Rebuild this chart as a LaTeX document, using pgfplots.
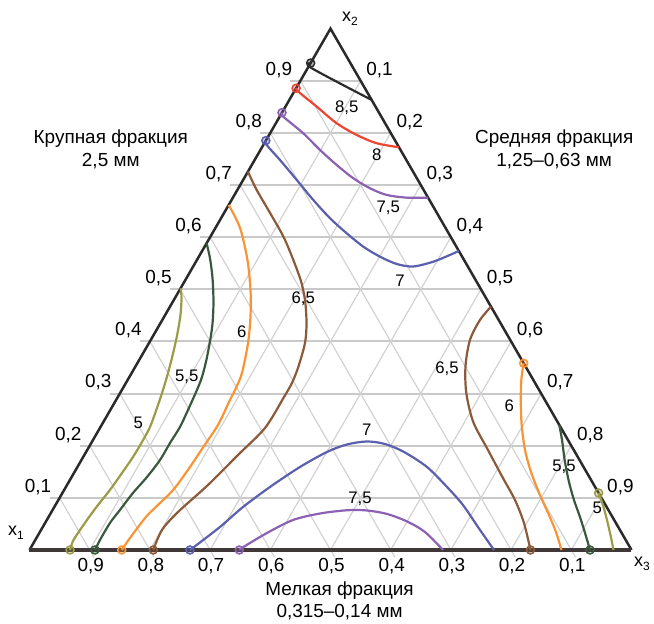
\documentclass[border=0pt]{standalone}
\usepackage{fontspec}
\setmainfont{Liberation Sans}
\usepackage{pgfplots}
\pgfplotsset{compat=1.18}
\usepackage{pgfplotstable}

\definecolor{cK}{HTML}{2B2B2B}
\definecolor{cR}{HTML}{EE4433}
\definecolor{cP}{HTML}{8C61B3}
\definecolor{cB}{HTML}{5A5FAE}
\definecolor{cBr}{HTML}{8C5A3A}
\definecolor{cO}{HTML}{F89436}
\definecolor{cG}{HTML}{3A593C}
\definecolor{cOl}{HTML}{9C9C48}
\definecolor{gridH}{HTML}{C9C9C9}
\definecolor{gridD}{HTML}{D2D2D2}
\definecolor{side}{HTML}{2A2A2A}
\definecolor{base}{HTML}{403838}

\pgfplotsset{
  cont/.style={line width=2.2bp, smooth, tension=0.5, mark=*, mark size=4bp,
    mark options={line width=1.5bp, fill opacity=0.3}},
}
\newcommand\tl{\fontsize{19}{22}\selectfont}
\newcommand\cl{\fontsize{16.8}{20}\selectfont}
\newcommand\ttl{\fontsize{19}{22.7}\selectfont}

\begin{document}
% ternary compositions: x2 (top vertex), x3 (bottom-right vertex); x1 = 1 - x2 - x3
\pgfplotstableread{
x2 x3
0.934 0.000
0.924 0.007
0.8632 0.1368
}\tblK
\pgfplotstableread{
x2 x3
0.8857 0.000
0.8792 0.0069
0.8504 0.0519
0.8185 0.1010
0.7961 0.1455
0.7802 0.1866
0.7725 0.2275
}\tblR
\pgfplotstableread{
x2 x3
0.8389 0.000
0.8312 0.006
0.7993 0.0551
0.7673 0.0989
0.7385 0.1410
0.7130 0.1814
0.6938 0.2187
0.6810 0.2529
0.6758 0.2887
0.6758 0.3242
}\tblPt
\pgfplotstableread{
x2 x3
0.7852 0.000
0.7769 0.0055
0.7481 0.0420
0.7098 0.0890
0.6714 0.1357
0.6363 0.1811
0.6075 0.2231
0.5818 0.2636
0.5626 0.3009
0.5486 0.3357
0.5438 0.3656
0.5530 0.3943
0.5659 0.4155
0.5736 0.4264
}\tblBt
\pgfplotstableread{
x2 x3
0.7257 0.000
0.6906 0.0321
0.6465 0.0763
0.5947 0.1271
0.5218 0.1884
0.4796 0.2178
0.4355 0.2424
0.3971 0.2591
0.3510 0.2710
0.3204 0.2758
0.2935 0.2761
0.2340 0.2742
0.1822 0.2552
0.1247 0.2342
0.0729 0.2103
0.0384 0.2009
0.000 0.2056
}\tblBrl
\pgfplotstableread{
x2 x3
0.6618 0.000
0.6177 0.0409
0.5563 0.0839
0.4988 0.1177
0.4489 0.1427
0.3971 0.1645
0.3395 0.1832
0.3108 0.1876
0.2877 0.1892
0.2398 0.1932
0.1995 0.1901
0.1592 0.1870
0.1170 0.1815
0.0863 0.1703
0.0633 0.1618
0.0230 0.1554
0.000 0.1532
}\tblOl
\pgfplotstableread{
x2 x3
0.5883 0.000
0.5601 0.0197
0.5218 0.0431
0.4738 0.0687
0.4259 0.0903
0.3702 0.1098
0.3319 0.1206
0.3069 0.1247
0.2686 0.1290
0.2359 0.1320
0.2053 0.1308
0.1726 0.1305
0.1400 0.1252
0.1093 0.1172
0.0767 0.1119
0.0518 0.1078
0.0192 0.1075
0.000 0.1088
}\tblGl
\pgfplotstableread{
x2 x3
0.5020 0.000
0.4834 0.0108
0.4508 0.0254
0.4105 0.0397
0.3683 0.0525
0.3357 0.0613
0.3069 0.0683
0.2724 0.0756
0.2359 0.0822
0.2072 0.0833
0.1784 0.0827
0.1477 0.0798
0.1151 0.0761
0.0863 0.0706
0.0575 0.0667
0.0326 0.0643
0.0173 0.0636
0.000 0.0673
}\tblOll
\pgfplotstableread{
x2 x3
0.000 0.2666
0.0096 0.2729
0.0441 0.2943
0.0825 0.3135
0.1209 0.3391
0.1592 0.3697
0.1880 0.4002
0.2024 0.4262
0.2081 0.4565
0.2033 0.4888
0.1880 0.5281
0.1592 0.5807
0.1209 0.6331
0.0863 0.6769
0.0441 0.7229
0.000 0.7716
}\tblBb
\pgfplotstableread{
x2 x3
0.000 0.3485
0.0096 0.3560
0.0326 0.3782
0.0575 0.4089
0.0700 0.4476
0.0762 0.4893
0.0758 0.5227
0.0691 0.5594
0.0547 0.5998
0.0345 0.6397
0.000 0.6869
}\tblPb
\pgfplotstableread{
x2 x3
0.4667 0.5333
0.4412 0.5277
0.4028 0.5303
0.3530 0.5478
0.3012 0.5750
0.2455 0.6144
0.1918 0.6657
0.1381 0.7174
0.0959 0.7585
0.0518 0.7955
0.000 0.8322
}\tblBrr
\pgfplotstableread{
x2 x3
0.3581 0.6419
0.3299 0.6523
0.2877 0.6722
0.2398 0.6977
0.1918 0.7272
0.1496 0.7583
0.1055 0.7952
0.0671 0.8294
0.0345 0.8573
0.000 0.8837
}\tblOr
\pgfplotstableread{
x2 x3
0.2398 0.7602
0.2110 0.7791
0.1688 0.8051
0.1304 0.8310
0.0959 0.8565
0.0633 0.8828
0.0326 0.9065
0.000 0.9311
}\tblGr
\pgfplotstableread{
x2 x3
0.1093 0.8907
0.0863 0.9095
0.0575 0.9305
0.0288 0.9507
0.000 0.9701
}\tblOlr

\begin{tikzpicture}
\begin{axis}[x=602bp, y=602bp,
  xmin=-0.0490, xmax=1.0374, ymin=-0.1196, ymax=0.9136,
  hide axis, clip=false]
\path (axis cs:-0.0490,-0.1196) rectangle (axis cs:1.0374,0.9136);
% grid: lines of constant x2 (with tick extension to the left)
\draw[gridH, line width=2bp]
 (axis cs:0.0334,0.0866) -- (axis cs:0.95,0.0866)
 (axis cs:0.0834,0.1732) -- (axis cs:0.90,0.1732)
 (axis cs:0.1334,0.2598) -- (axis cs:0.85,0.2598)
 (axis cs:0.1834,0.3464) -- (axis cs:0.80,0.3464)
 (axis cs:0.2334,0.4330) -- (axis cs:0.75,0.4330)
 (axis cs:0.2834,0.5196) -- (axis cs:0.70,0.5196)
 (axis cs:0.3334,0.6062) -- (axis cs:0.65,0.6062)
 (axis cs:0.3834,0.6928) -- (axis cs:0.60,0.6928)
 (axis cs:0.4334,0.7794) -- (axis cs:0.55,0.7794);
% lines of constant x1 (with tick extension below the base)
\draw[gridD, line width=1.2bp]
 (axis cs:0.05,0.0866) -- (axis cs:0.107,-0.0121)
 (axis cs:0.10,0.1732) -- (axis cs:0.207,-0.0121)
 (axis cs:0.15,0.2598) -- (axis cs:0.307,-0.0121)
 (axis cs:0.20,0.3464) -- (axis cs:0.407,-0.0121)
 (axis cs:0.25,0.4330) -- (axis cs:0.507,-0.0121)
 (axis cs:0.30,0.5196) -- (axis cs:0.607,-0.0121)
 (axis cs:0.35,0.6062) -- (axis cs:0.707,-0.0121)
 (axis cs:0.40,0.6928) -- (axis cs:0.807,-0.0121)
 (axis cs:0.45,0.7794) -- (axis cs:0.907,-0.0121);
% lines of constant x3
\draw[gridD, line width=1.2bp]
 (axis cs:0.1,0) -- (axis cs:0.55,0.7794)
 (axis cs:0.2,0) -- (axis cs:0.60,0.6928)
 (axis cs:0.3,0) -- (axis cs:0.65,0.6062)
 (axis cs:0.4,0) -- (axis cs:0.70,0.5196)
 (axis cs:0.5,0) -- (axis cs:0.75,0.4330)
 (axis cs:0.6,0) -- (axis cs:0.80,0.3464)
 (axis cs:0.7,0) -- (axis cs:0.85,0.2598)
 (axis cs:0.8,0) -- (axis cs:0.90,0.1732)
 (axis cs:0.9,0) -- (axis cs:0.95,0.0866);
% triangle
\draw[side, line width=2.5bp, line join=miter] (axis cs:0,0) -- (axis cs:0.5,0.866025) -- (axis cs:1,0);
\draw[base, line width=3.8bp] (axis cs:0,0) -- (axis cs:1,0);

% contour lines
\addplot[cont, cK, smooth=false, mark indices={1}] table[x expr=\thisrow{x3}+0.5*\thisrow{x2}, y expr=0.866025*\thisrow{x2}] {\tblK};
\addplot[cont, cR, mark indices={1}] table[x expr=\thisrow{x3}+0.5*\thisrow{x2}, y expr=0.866025*\thisrow{x2}] {\tblR};
\addplot[cont, cP, mark indices={1}] table[x expr=\thisrow{x3}+0.5*\thisrow{x2}, y expr=0.866025*\thisrow{x2}] {\tblPt};
\addplot[cont, cB, mark indices={1}] table[x expr=\thisrow{x3}+0.5*\thisrow{x2}, y expr=0.866025*\thisrow{x2}] {\tblBt};
\addplot[cont, cBr, mark indices={17}] table[x expr=\thisrow{x3}+0.5*\thisrow{x2}, y expr=0.866025*\thisrow{x2}] {\tblBrl};
\addplot[cont, cO, mark indices={17}] table[x expr=\thisrow{x3}+0.5*\thisrow{x2}, y expr=0.866025*\thisrow{x2}] {\tblOl};
\addplot[cont, cG, mark indices={18}] table[x expr=\thisrow{x3}+0.5*\thisrow{x2}, y expr=0.866025*\thisrow{x2}] {\tblGl};
\addplot[cont, cOl, mark indices={18}] table[x expr=\thisrow{x3}+0.5*\thisrow{x2}, y expr=0.866025*\thisrow{x2}] {\tblOll};
\addplot[cont, cB, mark indices={1}] table[x expr=\thisrow{x3}+0.5*\thisrow{x2}, y expr=0.866025*\thisrow{x2}] {\tblBb};
\addplot[cont, cP, mark indices={1}] table[x expr=\thisrow{x3}+0.5*\thisrow{x2}, y expr=0.866025*\thisrow{x2}] {\tblPb};
\addplot[cont, cBr, mark indices={11}] table[x expr=\thisrow{x3}+0.5*\thisrow{x2}, y expr=0.866025*\thisrow{x2}] {\tblBrr};
\addplot[cont, cO, mark indices={1}] table[x expr=\thisrow{x3}+0.5*\thisrow{x2}, y expr=0.866025*\thisrow{x2}] {\tblOr};
\addplot[cont, cG, mark indices={8}] table[x expr=\thisrow{x3}+0.5*\thisrow{x2}, y expr=0.866025*\thisrow{x2}] {\tblGr};
\addplot[cont, cOl, mark indices={1}] table[x expr=\thisrow{x3}+0.5*\thisrow{x2}, y expr=0.866025*\thisrow{x2}] {\tblOlr};

% tick labels, left side (x2)
\begin{scope}[every node/.style={font=\tl, xshift=-21.5bp, yshift=11bp}]
\node at (axis cs:0.05,0.0866) {0,1};
\node at (axis cs:0.10,0.1732) {0,2};
\node at (axis cs:0.15,0.2598) {0,3};
\node at (axis cs:0.20,0.3464) {0,4};
\node at (axis cs:0.25,0.4330) {0,5};
\node at (axis cs:0.30,0.5196) {0,6};
\node at (axis cs:0.35,0.6062) {0,7};
\node at (axis cs:0.40,0.6928) {0,8};
\node at (axis cs:0.45,0.7794) {0,9};
\end{scope}
% right side (x3)
\begin{scope}[every node/.style={font=\tl, xshift=19bp, yshift=11bp}]
\node at (axis cs:0.55,0.7794) {0,1};
\node at (axis cs:0.60,0.6928) {0,2};
\node at (axis cs:0.65,0.6062) {0,3};
\node at (axis cs:0.70,0.5196) {0,4};
\node at (axis cs:0.75,0.4330) {0,5};
\node at (axis cs:0.80,0.3464) {0,6};
\node at (axis cs:0.85,0.2598) {0,7};
\node at (axis cs:0.90,0.1732) {0,8};
\node at (axis cs:0.95,0.0866) {0,9};
\end{scope}
% bottom (x1)
\begin{scope}[every node/.style={font=\tl, xshift=1bp, yshift=-16bp}]
\node at (axis cs:0.1,0) {0,9};
\node at (axis cs:0.2,0) {0,8};
\node at (axis cs:0.3,0) {0,7};
\node at (axis cs:0.4,0) {0,6};
\node at (axis cs:0.5,0) {0,5};
\node at (axis cs:0.6,0) {0,4};
\node at (axis cs:0.7,0) {0,3};
\node at (axis cs:0.8,0) {0,2};
\node at (axis cs:0.9,0) {0,1};
\end{scope}
% vertex labels
\node[font=\fontsize{18}{20}\selectfont] at (axis cs:-0.0224,0.0282) {x\raisebox{-0.45ex}{\fontsize{12}{14}\selectfont 1}};
\node[font=\fontsize{18}{20}\selectfont] at (axis cs:0.5324,0.8820) {x\raisebox{-0.45ex}{\fontsize{12}{14}\selectfont 2}};
\node[font=\fontsize{18}{20}\selectfont] at (axis cs:1.0174,-0.0233) {x\raisebox{-0.45ex}{\fontsize{12}{14}\selectfont 3}};
% titles
\node[font=\ttl, align=center] at (axis cs:0.1350,0.6650) {Крупная фракция\\2,5 мм};
\node[font=\ttl, align=center] at (axis cs:0.8716,0.6650) {Средняя фракция\\1,25–0,63 мм};
\node[font=\ttl, align=center] at (axis cs:0.5151,-0.0842) {Мелкая фракция\\0,315–0,14 мм};
% contour value labels
\begin{scope}[every node/.style={font=\cl}]
\node at (axis cs:0.5269,0.7354) {8,5};
\node at (axis cs:0.5767,0.6561) {8};
\node at (axis cs:0.5960,0.5676) {7,5};
\node at (axis cs:0.6154,0.4468) {7};
\node at (axis cs:0.4548,0.4181) {6,5};
\node at (axis cs:0.3525,0.3626) {6};
\node at (axis cs:0.2611,0.2879) {5,5};
\node at (axis cs:0.1807,0.2105) {5};
\node at (axis cs:0.5601,0.1993) {7};
\node at (axis cs:0.5490,0.0847) {7,5};
\node at (axis cs:0.6935,0.3017) {6,5};
\node at (axis cs:0.7970,0.2392) {6};
\node at (axis cs:0.8879,0.1384) {5,5};
\node at (axis cs:0.9432,0.0693) {5};
\end{scope}
\end{axis}
\end{tikzpicture}
\end{document}
